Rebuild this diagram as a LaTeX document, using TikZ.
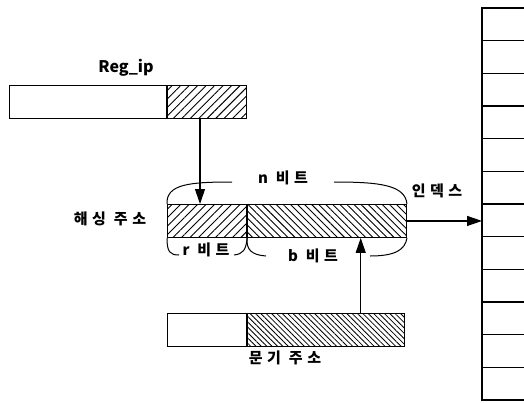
\documentclass[tikz,border=0pt]{standalone}
\usepackage{fontspec}
\setmainfont{Noto Sans CJK KR}
\newfontfamily\krfont{Noto Sans CJK KR}[LetterSpace=30]
\usetikzlibrary{
	arrows.meta,
	calc,
	patterns.meta,
	positioning
}

\tikzset{
	fld/.style={draw, minimum height=33pt, inner sep=0pt, anchor=north west},
	hatchR/.style={pattern={Lines[angle=45, distance=6pt, line width=.9pt]}},
	hatchL/.style={pattern={Lines[angle=-45, distance=5pt, line width=.9pt]}},
	hatchF/.style={pattern={Lines[angle=-45, distance=3.8pt, line width=.8pt]}},
	arr/.style={-{Triangle[length=15pt, width=10pt]}},
	lbl/.style={font=\krfont\bfseries\fontsize{15}{17}\selectfont, inner sep=1pt}
}

\begin{document}
\begin{tikzpicture}[x=1pt, y=-1pt, line width=1.1pt]
		\useasboundingbox (0,0) rectangle (524,402);
		% Reg_ip register
		\node[fld, minimum width=157pt] (regL) at (9,85) {};
		\node[fld, minimum width=79pt, hatchR] (regR) at (regL.north east) {};
		\node[font=\bfseries\fontsize{16}{18}\selectfont] (reglbl) at (126,68) {Reg\_ip};
		% hashing address
		\node[fld, minimum width=79pt, hatchR] (hashR) at (167,204) {};
		\node[fld, minimum width=159pt, hatchL] (hashB) at (hashR.north east) {};
		\node[lbl] (hashlbl) at (110,219) {해싱 주소};
		% branch address
		\node[fld, minimum width=79pt] (brL) at (167,313) {};
		\node[fld, minimum width=157pt, hatchF] (brR) at (brL.north east) {};
		\node[lbl] (brlbl) at (285,358) {문기 주소};
		% braces
		\draw[line width=1pt] (hashR.north west) .. controls (166,184) and (190,182) .. (232,182);
		\draw[line width=1pt] (334,182) .. controls (380,182) and (405,185) .. (hashB.north east);
		\draw[line width=1pt] (hashR.south west) .. controls (167,252) and (170,255) .. (179,255);
		\draw[line width=1pt] (234,255) .. controls (243,254) and (246,250) .. (hashR.south east);
		\draw[line width=1pt] (hashB.south west) .. controls (246,250) and (252,255) .. (266,256);
		\draw[line width=1pt] (370,256) .. controls (395,256) and (405,250) .. (hashB.south east);
		\node[lbl] (nlbl) at (283,178) {n 비트};
		\node[lbl] (rlbl) at (206,250) {r 비트};
		\node[lbl] (blbl) at (313,256) {b 비트};
		% table
		\coordinate (tbl) at (482,8);
		\draw[line width=1.5pt] (tbl) -- (482,400);
		\foreach \i in {0,...,12}
		\draw[line width=1.5pt] (481.25,8+32.67*\i) -- (524,8+32.67*\i);
		\node[lbl] (idxlbl) at (437,191) {인덱스};
		% arrows
		\coordinate (inB) at ($(brR.north west)!0.72!(brR.north east)$);
		\draw[arr] (regR.south -| 200,0) -- (hashR.north -| 200,0);
		\draw[arr] (inB) -- (inB |- hashB.south);
		\draw[arr] (hashB.east) -- (hashB.east -| tbl);
	\end{tikzpicture}
\end{document}
